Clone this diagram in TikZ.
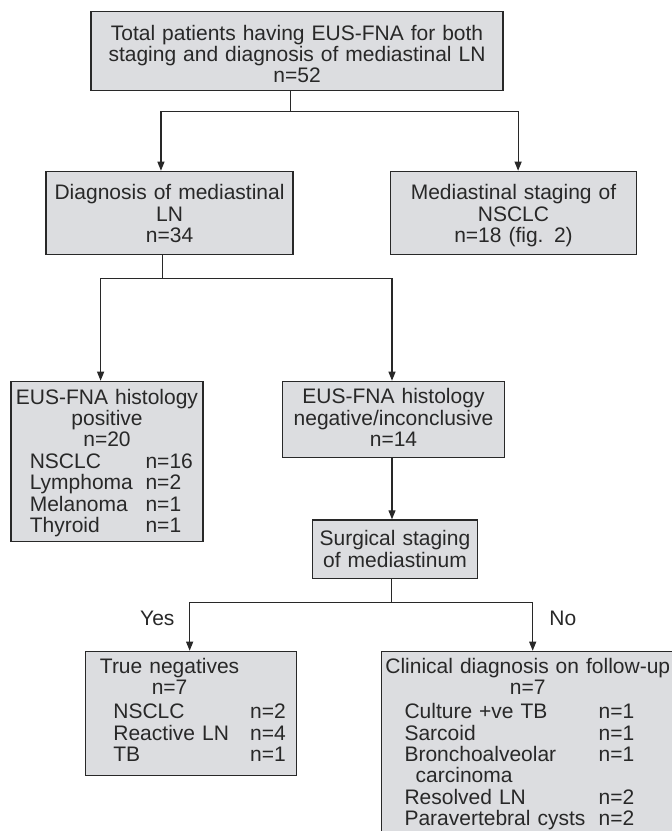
\documentclass[tikz,border=0pt]{standalone}
\usepackage{fontspec}
\setmainfont{Liberation Sans}
\usepackage{tikz}
\usetikzlibrary{arrows.meta,positioning,calc}
\definecolor{boxfill}{RGB}{220,221,224}
\definecolor{ink}{RGB}{40,40,40}
\setlength{\parindent}{0pt}
\newcommand{\listrow}[4]{\hspace*{#1}\makebox[#2][l]{#3}#4}

\begin{document}
\begin{tikzpicture}[x=1pt,y=-1pt,
  font=\fontsize{21}{21.4}\selectfont, text=ink,
  box/.style={draw=ink,fill=boxfill,line width=1.4pt,inner sep=0pt,anchor=north west},
  link/.style={draw=ink,line width=1.1pt},
  arr/.style={link,-{Triangle[length=9pt,width=7pt]}}]
\useasboundingbox (0,0) rectangle (672,831);
\clip (0,0) rectangle (672,831);

% boxes
\node[box,align=center,text width=411.9pt,minimum height=78.7pt,text height=20.7pt,text depth=42.8pt] (total) at (90.4,11) {Total patients having EUS-FNA for both\\staging and diagnosis of mediastinal LN\\n=52};
\node[box,align=center,text width=246.9pt,minimum height=83.3pt,text height=16.1pt,text depth=42.8pt] (diag) at (45.4,170.7) {Diagnosis of mediastinal\\LN\\n=34};
\node[box,align=center,text width=246.4pt,minimum height=83.3pt,text height=20.5pt,text depth=47.2pt] (staging) at (389.6,170.7) {Mediastinal staging of\\NSCLC\\n=18 (fig. 2)};
\node[box,text width=192pt,minimum height=160.3pt,text height=17.7pt,text depth=132.8pt] (pos) at (10.3,380.7) {\centering EUS-FNA histology\\positive\\n=20\par\raggedright
  \listrow{18.8pt}{115.8pt}{NSCLC}{n=16}\\
  \listrow{18.8pt}{115.8pt}{Lymphoma}{n=2}\\
  \listrow{18.8pt}{115.8pt}{Melanoma}{n=1}\\
  \listrow{18.8pt}{115.8pt}{Thyroid}{n=1}};
\node[box,align=center,text width=221.6pt,minimum height=76pt,text height=11.4pt,text depth=42.8pt] (neg) at (282,380.7) {EUS-FNA histology\\negative/inconclusive\\n=14};
\node[box,align=center,text width=165.4pt,minimum height=58.4pt,text height=14.4pt,text depth=21.4pt] (surg) at (311.6,519.3) {Surgical staging\\of mediastinum};
\node[box,text width=210.9pt,minimum height=124.3pt,text height=8.8pt,text depth=89.1pt] (trueneg) at (84.9,650.7) {\raggedright
  \hspace*{14.5pt}\makebox[139pt]{True negatives}\\
  \hspace*{14.5pt}\makebox[139pt]{n=7}\\[2.5pt]
  \listrow{27.8pt}{136.8pt}{NSCLC}{n=2}\\
  \listrow{27.8pt}{136.8pt}{Reactive LN}{n=4}\\
  \listrow{27.8pt}{136.8pt}{TB}{n=1}};
\node[box,text width=300pt,minimum height=185.4pt,text height=15.3pt,text depth=156.7pt] (clin) at (380.6,650.7) {\raggedright
  \hspace*{6pt}\makebox[281pt]{Clinical diagnosis on follow-up}\\
  \hspace*{6pt}\makebox[281pt]{n=7}\\[2.5pt]
  \listrow{23.2pt}{194.2pt}{Culture +ve TB}{n=1}\\
  \listrow{23.2pt}{194.2pt}{Sarcoid}{n=1}\\
  \listrow{23.2pt}{194.2pt}{Bronchoalveolar}{n=1}\\
  \hspace*{34.4pt}carcinoma\\
  \listrow{23.2pt}{194.2pt}{Resolved LN}{n=2}\\
  \listrow{23.2pt}{194.2pt}{Paravertebral cysts}{n=2}};

% labels
\node[anchor=base,inner sep=0pt] (yes) at (157.3,625) {Yes};
\node[anchor=base,inner sep=0pt] (no) at (562.8,625) {No};

% connectors
\coordinate (j1) at (290.6,111.7);
\draw[link] (total.south -| j1) -- (j1);
\draw[arr] (j1) -| ([xshift=-8.6pt]diag.north);
\draw[arr] (j1) -| ([xshift=4.6pt]staging.north);
\coordinate (j2) at (162.9,278.3);
\draw[link] (diag.south -| j2) -- (j2);
\draw[arr] (j2) -| ([xshift=-6.4pt]pos.north);
\draw[arr] (j2) -| ([xshift=-1.5pt]neg.north);
\draw[arr] ([xshift=-1.5pt]neg.south) -- ([xshift=-1.5pt]neg.south |- surg.north);
\coordinate (j3) at (391.3,602.7);
\draw[link] (surg.south -| j3) -- (j3);
\draw[arr] (j3) -| ([xshift=-1.4pt]trueneg.north);
\draw[arr] (j3) -| ([xshift=1.4pt]clin.north);
\end{tikzpicture}
\end{document}
